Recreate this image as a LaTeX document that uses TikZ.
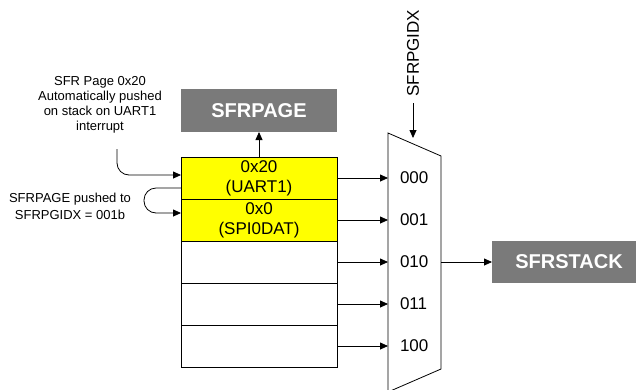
\documentclass[tikz,border=0pt]{standalone}
\usepackage{fontspec}
\setmainfont{Liberation Sans}
\usetikzlibrary{arrows.meta, positioning, calc}
\definecolor{boxgray}{HTML}{7A7A7A}
\definecolor{rowyellow}{HTML}{FFFF00}
\tikzset{
  stackrow/.style={draw, outer sep=0pt, inner sep=0pt, minimum width=156pt,
                   minimum height=42pt, align=center, font=\fontsize{17}{20}\selectfont},
  graybox/.style={fill=boxgray, text=white, inner sep=0pt, outer sep=0pt,
                  font=\fontsize{20}{24}\selectfont\bfseries},
  muxlabel/.style={anchor=west, inner xsep=12pt, inner ysep=0pt, outer sep=0pt,
                   font=\fontsize{17}{20}\selectfont},
  arr/.style={-{Triangle[length=8pt,width=7pt]}},
  note/.style={align=center, inner sep=0pt, font=\fontsize{13}{15}\selectfont}
}

\begin{document}
\begin{tikzpicture}[x=1pt, y=-1pt, line width=0.8pt]
  \useasboundingbox (0,0) rectangle (636,389);

  % the stack
  \node[stackrow, fill=rowyellow, anchor=north west] (r1) at (181,157) {0x20\\(UART1)};
  \node[stackrow, fill=rowyellow, below=0pt of r1] (r2) {0x0\\(SPI0DAT)};
  \node[stackrow, below=0pt of r2] (r3) {};
  \node[stackrow, below=0pt of r3] (r4) {};
  \node[stackrow, below=0pt of r4] (r5) {};

  \node[graybox, minimum width=156pt, minimum height=43pt, above=25pt of r1] (sfrpage) {SFRPAGE};
  \draw[arr] (r1) -- (sfrpage);

  % the mux
  \coordinate (mtl) at (388,133);
  \coordinate (mtr) at (441,156);
  \coordinate (mbr) at (441,369);
  \coordinate (mbl) at (388,392);
  \draw (mtl) -- (mtr) -- (mbr) -- (mbl) -- cycle;

  \foreach \lab/\r [count=\i from 0] in {000/r1, 001/r2, 010/r3, 011/r4, 100/r5} {
    \node[muxlabel] (m\i) at (mtl |- \r) {\lab};
    \draw[arr] (\r.east) -- (m\i.west);
  }

  \node[rotate=90, anchor=west, inner xsep=6pt, inner ysep=0pt,
        font=\fontsize{17}{20}\selectfont] (idx) at (413,103) {SFRPGIDX};
  \coordinate (idxin) at (413,138);
  \draw[arr] (idx.west) -- (idxin);

  \node[graybox, minimum width=154pt, minimum height=42pt, anchor=west] (sfrstack) at (492,262) {SFRSTACK};
  \coordinate (mout) at (441,262);
  \draw[arr] (mout) -- (sfrstack);

  % notes on the left
  \node[note] (note1) at (100,105) {SFR Page 0x20\\Automatically pushed\\on stack on UART1\\interrupt};
  \coordinate (in1) at (117,149);
  \draw[arr, rounded corners=12pt] (in1) |- ([yshift=3pt]r1.west);

  \node[note, font=\fontsize{13}{17}\selectfont] (note2) at (70,206) {SFRPAGE pushed to\\SFRPGIDX = 001b};
  \draw[arr, rounded corners=12pt] ([yshift=-10pt]r1.west) -- ++(-37,0) -- ++(0,25) -- ([yshift=7pt]r2.west);
\end{tikzpicture}
\end{document}
